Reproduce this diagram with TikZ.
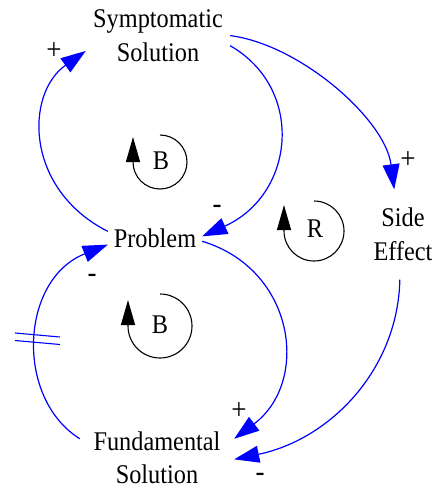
\documentclass[tikz,border=0pt]{standalone}
\usepackage{fontspec}
\setmainfont{Liberation Serif}
\newfontfamily\timesfont[FakeStretch=0.9]{Liberation Serif}
\usetikzlibrary{arrows.meta}
\definecolor{linkblue}{RGB}{0,0,255}
\tikzset{
  lbl/.style={font=\timesfont\fontsize{27}{33.5}\selectfont, align=center, inner sep=0pt},
  sgn/.style={font=\timesfont\fontsize{30}{32}\selectfont, inner sep=0pt},
  link/.style={draw=linkblue, line width=1.2pt, -{Triangle[length=25pt,width=17pt]}, color=linkblue},
  loopm/.style={draw=black, line width=1.1pt, -{Triangle[length=25pt,width=14pt]}},
  delaym/.style={draw=linkblue, line width=1.1pt}
}
\begin{document}
\begin{tikzpicture}[x=1pt,y=1pt]
\useasboundingbox (0,0) rectangle (439,-489);
% variables
\node[lbl, minimum width=144pt] (sym) at (158,-35.6) {Symptomatic\\Solution};
\node[lbl, minimum width=94pt, minimum height=30pt] (prob) at (155,-238) {Problem};
\node[lbl, minimum width=64pt, minimum height=90pt] (side) at (403,-234.5) {Side\\Effect};
\node[lbl, minimum width=154pt] (fund) at (157,-458) {Fundamental\\Solution};
% links
\draw[link] (prob.172) .. controls +(-83,42) and +(-61,-43) .. (sym.192);
\draw[link] (sym.352) .. controls +(75,-43) and +(93,42) .. (prob.2);
\draw[link] (sym.east) .. controls +(70,-9) and +(-9,70) .. (side.101);
\draw[link] (prob.-4) .. controls +(93,-28) and +(76,57) .. (fund.14);
\draw[link] (side.266) .. controls +(-2,-90) and +(96,20) .. (fund.-1);
\draw[link] (fund.166) .. controls +(-65,40.6) and +(-88,-35) .. (prob.188);
% delay mark
\draw[delaym] (15,-333) -- (60,-337);
\draw[delaym] (15,-340.5) -- (60,-344.5);
% polarity signs
\node[sgn] (s1) at (54,-51) {+};
\node[sgn] (s2) at (217,-209) {-};
\node[sgn] (s3) at (408,-160) {+};
\node[sgn] (s4) at (239,-411) {+};
\node[sgn] (s5) at (260,-477) {-};
\node[sgn] (s6) at (92,-278) {-};
% loop markers
\draw[loopm] (160,-135) arc[start angle=90,end angle=-180,radius=27] -- ++(0,25);
\node[lbl] (l1) at (161,-161) {B};
\draw[loopm] (314,-201) arc[start angle=90,end angle=-180,radius=30] -- ++(0,26);
\node[lbl] (l2) at (315,-229) {R};
\draw[loopm] (160,-294) arc[start angle=90,end angle=-180,radius=32] -- ++(0,26);
\node[lbl] (l3) at (160,-325) {B};
\end{tikzpicture}
\end{document}
